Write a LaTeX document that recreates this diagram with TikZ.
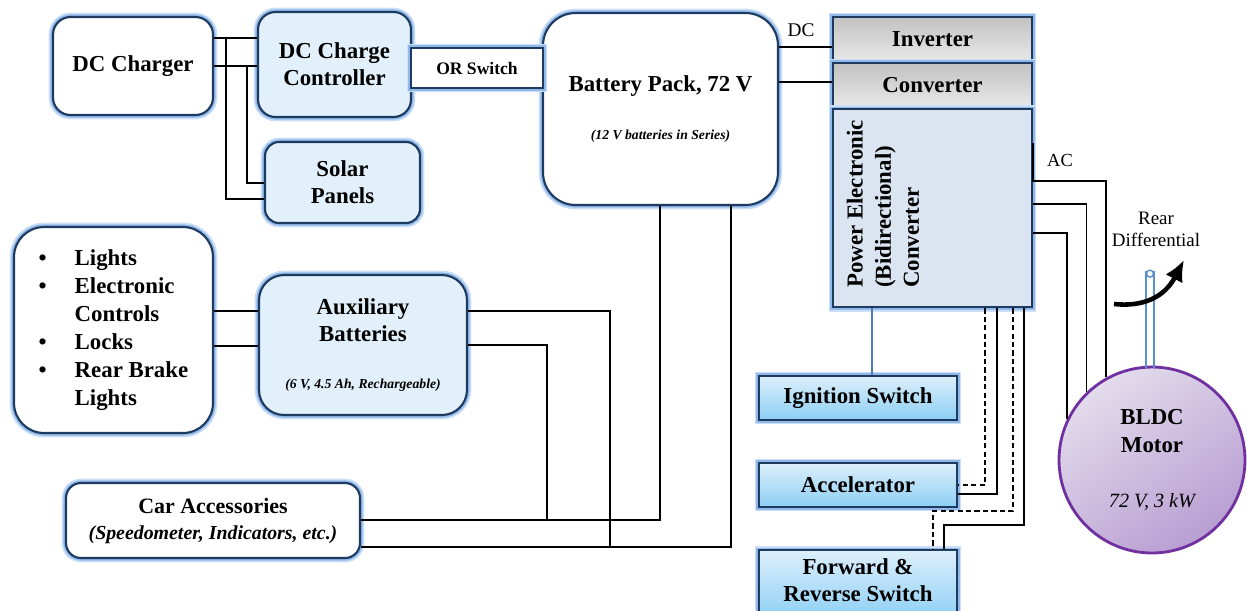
\documentclass[tikz,border=0pt]{standalone}
\usepackage{fontspec}
\setmainfont{Liberation Serif}
\usepackage{xcolor}
\usetikzlibrary{
  positioning,
  arrows.meta,
  calc
}

\definecolor{navy}{HTML}{1F3A5F}
\definecolor{glow}{HTML}{8FB9EA}
\definecolor{paleblue}{HTML}{E1F0FB}
\definecolor{peblue}{HTML}{DBE5F1}
\definecolor{swtop}{HTML}{DDEFFB}
\definecolor{swbot}{HTML}{8CCFF5}
\definecolor{motorline}{HTML}{7030A0}
\definecolor{motortop}{HTML}{E3DCEC}
\definecolor{motorbot}{HTML}{B89ED2}
\definecolor{shaftblue}{HTML}{5B8FD0}
\definecolor{ctlblue}{HTML}{4A7EBB}

\newcommand{\bulitem}[1]{\makebox[0.72cm][l]{\textbullet}#1}
\newcommand{\contitem}[1]{\makebox[0.72cm][l]{}#1}

\begin{document}
\begin{tikzpicture}[
  x=0.02cm, y=-0.02cm,
  font=\fontsize{13}{15.5}\selectfont\bfseries,
  halo/.style={
    preaction={draw=glow!45, line width=5pt},
    preaction={draw=glow, line width=3pt}
  },
  block/.style={
    rectangle,
    rounded corners=0.35cm,
    draw=navy,
    line width=1.2pt,
    halo,
    fill=white,
    align=center
  },
  paleblock/.style={
    block,
    fill=paleblue
  },
  unit/.style={
    rectangle,
    draw=navy,
    line width=1.2pt,
    halo,
    minimum width=3.98cm,
    minimum height=0.88cm,
    top color=black!24,
    bottom color=black!9
  },
  switchbox/.style={
    rectangle,
    draw=navy,
    line width=1.2pt,
    halo,
    minimum width=3.96cm,
    minimum height=0.88cm,
    top color=swtop,
    bottom color=swbot,
    align=center
  },
  wirelabel/.style={
    font=\fontsize{11}{13}\selectfont\mdseries
  },
  wire/.style={
    draw=black,
    line width=1pt
  },
  ctlwire/.style={
    draw=ctlblue,
    line width=0.7pt
  },
  dashwire/.style={
    wire,
    dash pattern=on 3pt off 1.8pt
  }
]
\useasboundingbox (0,0) rectangle (1247,610);

% Charging side
\node[block, minimum width=3.2cm, minimum height=1.96cm] (charger) at (133,66) {DC Charger};
\node[paleblock, minimum width=3.06cm, minimum height=2.1cm] (ctrl) at (334.5,64.5) {DC Charge\\Controller};
\node[paleblock, rounded corners=0.28cm, minimum width=3.1cm, minimum height=1.62cm] (solar) at (342.5,182.5) {Solar\\Panels};
\node[block, rounded corners=0.65cm, minimum width=4.7cm, minimum height=3.84cm] (pack) at (660.5,109)
  {Battery Pack, 72 V\\[12pt]{\fontsize{7.8}{8}\selectfont\itshape (12 V batteries in Series)}};
\node[block, rounded corners=0pt, minimum width=2.64cm, minimum height=0.8cm,
  font=\fontsize{10}{12}\selectfont\bfseries] (orsw) at (477,68) {OR Switch};

% Power electronics
\node[unit] (inv) at (932.5,39) {Inverter};
\node[unit, below=0pt of inv] (conv) {Converter};
\node[unit, below=0pt of conv, minimum height=3.96cm, fill=peblue, top color=peblue, bottom color=peblue] (pe) {};
\node[rotate=90, anchor=west, align=left, inner sep=0pt, font=\fontsize{13}{16}\selectfont\bfseries] (petext) at (883,288)
  {Power Electronic\\(Bidirectional)\\Converter};

% Low voltage side
\node[block, rounded corners=0.6cm, minimum width=3.98cm, minimum height=4.12cm, align=left,
  font=\fontsize{13}{16}\selectfont\bfseries] (loads) at (113.5,330)
  {\bulitem{Lights}\\\bulitem{Electronic}\\\contitem{Controls}\\\bulitem{Locks}\\\bulitem{Rear Brake}\\\contitem{Lights}};
\node[paleblock, rounded corners=0.5cm, minimum width=4.16cm, minimum height=2.8cm] (aux) at (363,345)
  {Auxiliary\\Batteries\\[11.5pt]{\fontsize{7.8}{8}\selectfont\itshape (6 V, 4.5 Ah, Rechargeable)}};
\node[block, rounded corners=0.3cm, minimum width=5.88cm, minimum height=1.5cm,
  font=\fontsize{12.5}{14.8}\selectfont\bfseries] (acc) at (213,520.5)
  {Car Accessories\\{\fontsize{11.3}{13}\selectfont\itshape (Speedometer, Indicators, etc.)}};

% Driver controls
\node[switchbox] (ign) at (858,398) {Ignition Switch};
\node[switchbox, below=0.82cm of ign] (accel) {Accelerator};
\node[switchbox, below=0.82cm of accel, minimum height=1.4cm, text depth=6pt] (fwd) {Forward \&\\Reverse Switch};

% Motor
\node[circle, draw=motorline, line width=1.6pt, minimum size=3.72cm, top color=motortop, bottom color=motorbot,
  shading angle=35, align=center, font=\fontsize{13}{16}\selectfont\bfseries] (motor) at (1152,460)
  {BLDC\\Motor\\[15pt]{\fontsize{11.5}{12}\selectfont\mdseries\itshape 72 V, 3 kW}};

% Labels
\node[wirelabel] (dclbl) at (801,30) {DC};
\node[wirelabel, font=\fontsize{10.5}{12}\selectfont\mdseries] (aclbl) at (1060,160) {AC};
\node[wirelabel, align=center, font=\fontsize{10.8}{12.5}\selectfont\mdseries] (difflbl) at (1156,229) {Rear\\Differential};

% Junctions
\coordinate (tapC) at (226,38);
\coordinate (tapD) at (247,66);
\coordinate (tapA) at (547,520);
\coordinate (tapB) at (610,547);
\coordinate (turnA) at (1114,304);
\coordinate (turnB) at (1184,260);

% Charging wires
\draw[wire] (charger.east |- 0,38) -- (ctrl.west |- 0,38);
\draw[wire] (charger.east |- 0,66) -- (ctrl.west |- 0,66);
\draw[wire] (tapC) |- (solar.west |- 0,199);
\draw[wire] (tapD) |- (solar.west |- 0,183);

% DC bus
\draw[wire] (pack.east |- 0,47) -- (inv.west |- 0,47);
\draw[wire] (pack.east |- 0,82) -- (conv.west |- 0,82);

% AC to motor
\draw[wire] (pe.east |- 0,143) -- (pe.east |- 0,181) -| (motor.119.6);
\draw[wire] (pe.east |- 0,204) -| (motor.134.3);
\draw[wire] (pe.east |- 0,233) -| (motor.154.6);

% Shaft and rear differential
\draw[draw=shaftblue, line width=0.8pt] ($(motor.north)+(-6,2)$) -- ++(0,-97);
\draw[draw=shaftblue, line width=0.8pt] ($(motor.north)+(2,2)$) -- ++(0,-97);
\node[circle, draw=shaftblue, fill=white, line width=0.8pt, inner sep=0pt, minimum size=0.14cm] (shaftend)
  at ($(motor.north)+(-2,-92)$) {};
\draw[-{Latex[length=12pt,width=11pt]}, line width=2.6pt, black] (turnA) .. controls (1142,307) and (1164,298) .. (turnB);

% Control wires
\draw[ctlwire] (pe.south -| 872,0) -- (ign.north -| 872,0);
\draw[dashwire] (pe.south -| 985,0) |- (accel.east);
\draw[wire] (pe.south -| 997,0) |- (accel.east |- 0,494);
\draw[dashwire] (pe.south -| 1013,0) |- (933,511) -- (fwd.north -| 933,0);
\draw[wire] (pe.south -| 1024,0) |- (944,525) -- (fwd.north -| 944,0);

% Auxiliary wiring
\draw[wire] (loads.east |- 0,311) -- (aux.west |- 0,311);
\draw[wire] (loads.east |- 0,346) -- (aux.west |- 0,346);
\draw[wire] (aux.east |- 0,311) -| (tapB);
\draw[wire] (aux.east |- 0,345) -| (tapA);
\draw[wire] (pack.south -| 660,0) |- (acc.east |- 0,520);
\draw[wire] (pack.south -| 731,0) |- (acc.east |- 0,547);

\end{tikzpicture}
\end{document}
